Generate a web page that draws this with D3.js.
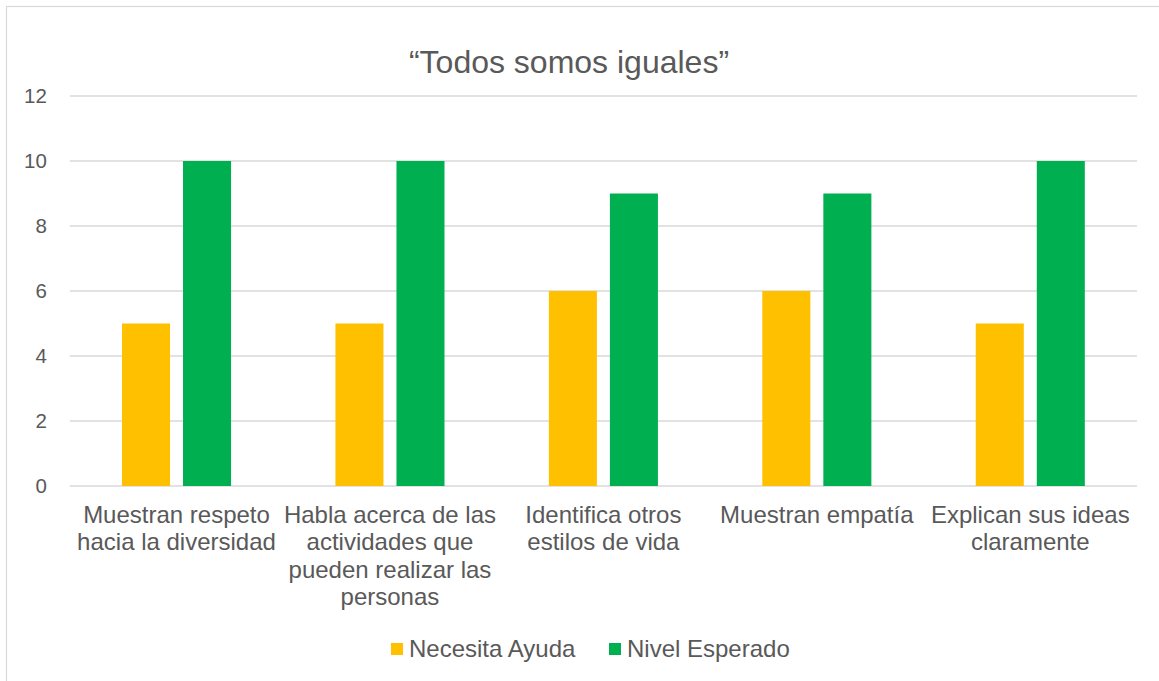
<!DOCTYPE html>
<html>
<head>
<meta charset="utf-8">
<script src="https://cdn.jsdelivr.net/npm/d3@7"></script>
<style>
  html, body { margin: 0; padding: 0; background: #fff; }
  svg { display: block; }
</style>
</head>
<body>
<svg id="chart" width="1159" height="681"></svg>
<script>
const title = "\u201CTodos somos iguales\u201D";
const categories = [
  "Muestran respeto\nhacia la diversidad",
  "Habla acerca de las\nactividades que\npueden realizar las\npersonas",
  "Identifica otros\nestilos de vida",
  "Muestran empatía",
  "Explican sus ideas\nclaramente"
];
const seriesNames = ["Necesita Ayuda", "Nivel Esperado"];
const necesitaAyuda = [5, 5, 6, 6, 5];
const nivelEsperado = [10, 10, 9, 9, 10];
const yTicks = [0, 2, 4, 6, 8, 10, 12];
const colors = ["#FFC000", "#00B050"];

const seriesValues = [necesitaAyuda, nivelEsperado];
const svg = d3.select("#chart");
const font = "'Liberation Sans', Arial, sans-serif";
const textColor = "#595959";

// outer border
svg.append("rect").attr("x", 6.5).attr("y", 6.5).attr("width", 1300).attr("height", 800)
  .attr("fill", "none").attr("stroke", "#D9D9D9").attr("stroke-width", 1.2);

const plot = { left: 69.8, right: 1137, top: 96, bottom: 486 };

const x0 = d3.scaleBand().domain(d3.range(categories.length))
  .range([plot.left, plot.right]).padding(0);
const x1 = d3.scaleBand().domain(d3.range(seriesNames.length))
  .range([0, x0.bandwidth()]).paddingInner(0.213).paddingOuter(0.855);
const y = d3.scaleLinear().domain([0, 12]).range([plot.bottom, plot.top]);

// gridlines
svg.append("g").selectAll("line").data(yTicks).join("line")
  .attr("x1", plot.left).attr("x2", plot.right)
  .attr("y1", d => y(d)).attr("y2", d => y(d))
  .attr("stroke", "#D9D9D9").attr("stroke-width", 1.3);

// y tick labels via axis
const yAxis = svg.append("g").attr("transform", `translate(${plot.left},0)`)
  .call(d3.axisLeft(y).tickValues(yTicks).tickSize(0).tickPadding(23));
yAxis.select(".domain").remove();
yAxis.selectAll("text").attr("font-family", font).attr("font-size", "20.5px")
  .attr("fill", textColor);

// bars
seriesValues.forEach((vals, si) => {
  svg.append("g").selectAll("rect").data(vals).join("rect")
    .attr("x", (d, i) => x0(i) + x1(si))
    .attr("width", x1.bandwidth())
    .attr("y", d => y(d))
    .attr("height", d => y(0) - y(d))
    .attr("fill", colors[si]);
});

// category labels
const catG = svg.append("g");
categories.forEach((c, i) => {
  const t = catG.append("text")
    .attr("x", x0(i) + x0.bandwidth() / 2)
    .attr("y", 522.7)
    .attr("text-anchor", "middle")
    .attr("font-family", font).attr("font-size", "24px").attr("fill", textColor);
  c.split("\n").forEach((line, li) => {
    t.append("tspan").attr("x", x0(i) + x0.bandwidth() / 2)
      .attr("dy", li === 0 ? 0 : 27.5).text(line);
  });
});

// title
svg.append("text").attr("x", 569).attr("y", 73)
  .attr("text-anchor", "middle").attr("font-family", font).attr("font-size", "32px")
  .attr("fill", textColor).text(title);

// legend
const legendX = [391, 609];
seriesNames.forEach((name, si) => {
  svg.append("rect").attr("x", legendX[si]).attr("y", 643).attr("width", 12).attr("height", 12)
    .attr("fill", colors[si]);
  svg.append("text").attr("x", legendX[si] + 18).attr("y", 656.5)
    .attr("font-family", font).attr("font-size", "24px").attr("fill", textColor).text(name);
});
</script>
</body>
</html>
